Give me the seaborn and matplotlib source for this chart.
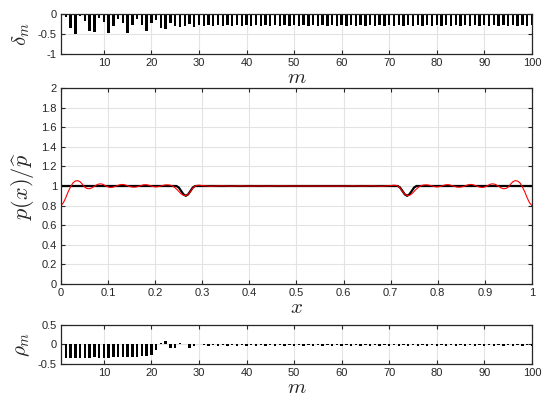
import numpy as np
import pandas as pd
import matplotlib
matplotlib.use("Agg")
import matplotlib.pyplot as plt
import seaborn as sns

# mode index
m_values = list(range(1, 101))

# delta_m (top panel)
delta_m = [
    -0.10, -0.08, -0.36, -0.51, -0.06, -0.18, -0.43, -0.45, -0.10, -0.20,
    -0.47, -0.30, -0.12, -0.23, -0.47, -0.28, -0.13, -0.27, -0.42, -0.22,
    -0.15, -0.35, -0.37, -0.22, -0.30, -0.32, -0.30, -0.24, -0.32, -0.27,
    -0.30, -0.27, -0.30, -0.28, -0.30, -0.27, -0.30, -0.28, -0.30, -0.27,
    -0.30, -0.28, -0.30, -0.28, -0.30, -0.28, -0.30, -0.28, -0.30, -0.28,
    -0.30, -0.28, -0.30, -0.28, -0.30, -0.28, -0.30, -0.28, -0.30, -0.28,
    -0.30, -0.28, -0.30, -0.28, -0.30, -0.28, -0.30, -0.28, -0.30, -0.28,
    -0.30, -0.28, -0.30, -0.28, -0.30, -0.28, -0.30, -0.28, -0.30, -0.28,
    -0.30, -0.28, -0.30, -0.28, -0.30, -0.28, -0.30, -0.28, -0.30, -0.28,
    -0.30, -0.28, -0.30, -0.28, -0.30, -0.28, -0.30, -0.28, -0.30, -0.28,
]

# rho_m (bottom panel)
rho_m = [
    -0.34, -0.35, -0.35, -0.34, -0.35, -0.34, -0.34, -0.33, -0.34, -0.35,
    -0.34, -0.33, -0.33, -0.32, -0.33, -0.31, -0.31, -0.30, -0.30, -0.28,
    -0.13, 0.05, 0.08, -0.10, -0.08, 0.03, 0.01, -0.09, -0.05, 0.01,
    -0.01, -0.05, -0.02, -0.03, -0.02, -0.04, -0.02, -0.03, -0.02, -0.04,
    -0.02, -0.03, -0.02, -0.04, -0.02, -0.03, -0.02, -0.04, -0.02, -0.03,
    -0.02, -0.04, -0.02, -0.03, -0.02, -0.04, -0.02, -0.03, -0.02, -0.04,
    -0.02, -0.03, -0.02, -0.04, -0.02, -0.03, -0.02, -0.04, -0.02, -0.03,
    -0.02, -0.04, -0.02, -0.03, -0.02, -0.04, -0.02, -0.03, -0.02, -0.04,
    -0.02, -0.03, -0.02, -0.04, -0.02, -0.03, -0.02, -0.04, -0.02, -0.03,
    -0.02, -0.04, -0.02, -0.03, -0.02, -0.04, -0.02, -0.03, -0.02, -0.03,
]

# exact profile p(x)/p_hat (black)
exact_x = [0.0, 0.245, 0.25, 0.255, 0.26, 0.265, 0.27, 0.275, 0.28, 0.285,
           0.715, 0.72, 0.725, 0.73, 0.735, 0.74, 0.745, 0.75, 0.755, 1.0]
exact_y = [1.0, 1.0, 0.985, 0.95, 0.915, 0.90, 0.915, 0.95, 0.985, 1.0,
           1.0, 0.985, 0.95, 0.915, 0.90, 0.915, 0.95, 0.985, 1.0, 1.0]

# truncated approximation (red)
approx_x = [
    0.0, 0.005, 0.01, 0.015, 0.02, 0.025, 0.03, 0.035, 0.04, 0.045,
    0.05, 0.055, 0.06, 0.065, 0.07, 0.075, 0.08, 0.085, 0.09, 0.095,
    0.10, 0.105, 0.11, 0.115, 0.12, 0.125, 0.13, 0.135, 0.14, 0.145,
    0.15, 0.155, 0.16, 0.165, 0.17, 0.175, 0.18, 0.185, 0.19, 0.195,
    0.20, 0.205, 0.21, 0.215, 0.22, 0.225, 0.23, 0.235, 0.24, 0.245,
    0.25, 0.255, 0.26, 0.265, 0.27, 0.275, 0.28, 0.285, 0.29, 0.295,
    0.30, 0.32, 0.34, 0.36, 0.38, 0.40, 0.42, 0.44, 0.46, 0.48,
    0.50, 0.52, 0.54, 0.56, 0.58, 0.60, 0.62, 0.64, 0.66, 0.68,
    0.70, 0.705, 0.71, 0.715, 0.72, 0.725, 0.73, 0.735, 0.74, 0.745,
    0.75, 0.755, 0.76, 0.765, 0.77, 0.775, 0.78, 0.785, 0.79, 0.795,
    0.80, 0.805, 0.81, 0.815, 0.82, 0.825, 0.83, 0.835, 0.84, 0.845,
    0.85, 0.855, 0.86, 0.865, 0.87, 0.875, 0.88, 0.885, 0.89, 0.895,
    0.90, 0.905, 0.91, 0.915, 0.92, 0.925, 0.93, 0.935, 0.94, 0.945,
    0.95, 0.955, 0.96, 0.965, 0.97, 0.975, 0.98, 0.985, 0.99, 0.995,
    1.0,
]
approx_y = [
    0.80, 0.83, 0.88, 0.94, 0.99, 1.03, 1.05, 1.055, 1.045, 1.02,
    0.99, 0.975, 0.972, 0.98, 0.995, 1.01, 1.02, 1.022, 1.015, 1.0,
    0.99, 0.985, 0.988, 0.995, 1.005, 1.013, 1.016, 1.013, 1.005, 0.995,
    0.99, 0.988, 0.99, 0.997, 1.005, 1.012, 1.014, 1.01, 1.002, 0.995,
    0.991, 0.992, 0.998, 1.005, 1.01, 1.012, 1.01, 1.005, 0.99, 0.97,
    0.945, 0.92, 0.905, 0.903, 0.915, 0.945, 0.98, 1.0, 1.008, 1.008,
    1.003, 0.998, 1.002, 0.999, 1.002, 0.999, 1.001, 0.999, 1.001, 1.0,
    1.0, 1.0, 1.001, 0.999, 1.001, 0.999, 1.002, 0.999, 1.002, 0.998,
    1.003, 1.008, 1.008, 1.0, 0.98, 0.945, 0.915, 0.903, 0.905, 0.92,
    0.945, 0.97, 0.99, 1.005, 1.01, 1.012, 1.01, 1.005, 0.998, 0.992,
    0.991, 0.995, 1.002, 1.01, 1.014, 1.012, 1.005, 0.997, 0.99, 0.988,
    0.99, 0.995, 1.005, 1.013, 1.016, 1.013, 1.005, 0.995, 0.988, 0.985,
    0.99, 1.0, 1.015, 1.022, 1.02, 1.01, 0.995, 0.98, 0.972, 0.975,
    0.99, 1.02, 1.045, 1.055, 1.05, 1.03, 0.99, 0.94, 0.88, 0.83,
    0.80,
]

sns.set_theme(style="whitegrid")
plt.rcParams.update({
    "font.family": ["Liberation Sans", "DejaVu Sans"],
    "mathtext.fontset": "cm",
    "axes.edgecolor": "#262626",
    "axes.linewidth": 0.9,
    "grid.color": "#e3e3e3",
    "grid.linewidth": 0.8,
    "xtick.color": "#262626",
    "ytick.color": "#262626",
})

fig = plt.figure(figsize=(5.5, 4.01), dpi=100)
ax_top = fig.add_axes([0.111, 0.865, 0.856, 0.100])
ax_mid = fig.add_axes([0.111, 0.2918, 0.856, 0.4887])
ax_bot = fig.add_axes([0.111, 0.0923, 0.856, 0.0972])

df_top = pd.DataFrame({"m": m_values, "delta": delta_m})
df_bot = pd.DataFrame({"m": m_values, "rho": rho_m})

sns.barplot(data=df_top, x="m", y="delta", native_scale=True, width=0.5,
            color="black", saturation=1, errorbar=None, linewidth=0, ax=ax_top)
sns.barplot(data=df_bot, x="m", y="rho", native_scale=True, width=0.5,
            color="black", saturation=1, errorbar=None, linewidth=0, ax=ax_bot)

sns.lineplot(x=exact_x, y=exact_y, color="black", linewidth=1.6,
             estimator=None, sort=False, ax=ax_mid)
sns.lineplot(x=approx_x, y=approx_y, color="#ff0000", linewidth=0.8,
             estimator=None, sort=False, ax=ax_mid)

for ax in (ax_top, ax_bot):
    ax.set_xlim(1, 100)
    ax.set_xticks(range(10, 101, 10))
    ax.set_xlabel("$m$", fontsize=15, labelpad=0)

ax_top.set_ylim(-1, 0)
ax_top.set_yticks([-1, -0.5, 0])
ax_top.set_yticklabels(["-1", "-0.5", "0"])
ax_top.set_ylabel(r"$\delta_m$", fontsize=15, labelpad=4)

ax_bot.set_ylim(-0.5, 0.5)
ax_bot.set_yticks([-0.5, 0, 0.5])
ax_bot.set_yticklabels(["-0.5", "0", "0.5"])
ax_bot.set_ylabel(r"$\rho_m$", fontsize=15, labelpad=4)

ax_mid.set_xlim(0, 1)
ax_mid.set_ylim(0, 2)
ax_mid.set_xticks(np.arange(0, 1.01, 0.1))
ax_mid.set_xticklabels(["0", "0.1", "0.2", "0.3", "0.4", "0.5", "0.6", "0.7", "0.8", "0.9", "1"])
ax_mid.set_yticks(np.arange(0, 2.01, 0.2))
ax_mid.set_yticklabels(["0", "0.2", "0.4", "0.6", "0.8", "1", "1.2", "1.4", "1.6", "1.8", "2"])
ax_mid.set_xlabel("$x$", fontsize=15, labelpad=0)
ax_mid.set_ylabel(r"$p(x)/\widehat{p}$", fontsize=16, labelpad=4)

for ax in (ax_top, ax_mid, ax_bot):
    ax.grid(True)
    ax.set_axisbelow(True)
    ax.tick_params(direction="in", length=3, width=0.8, top=True, right=True,
                   bottom=True, left=True, labelsize=8, pad=3)
    for s in ax.spines.values():
        s.set_visible(True)
        s.set_color("#262626")

fig.savefig("out.png", dpi=100)
